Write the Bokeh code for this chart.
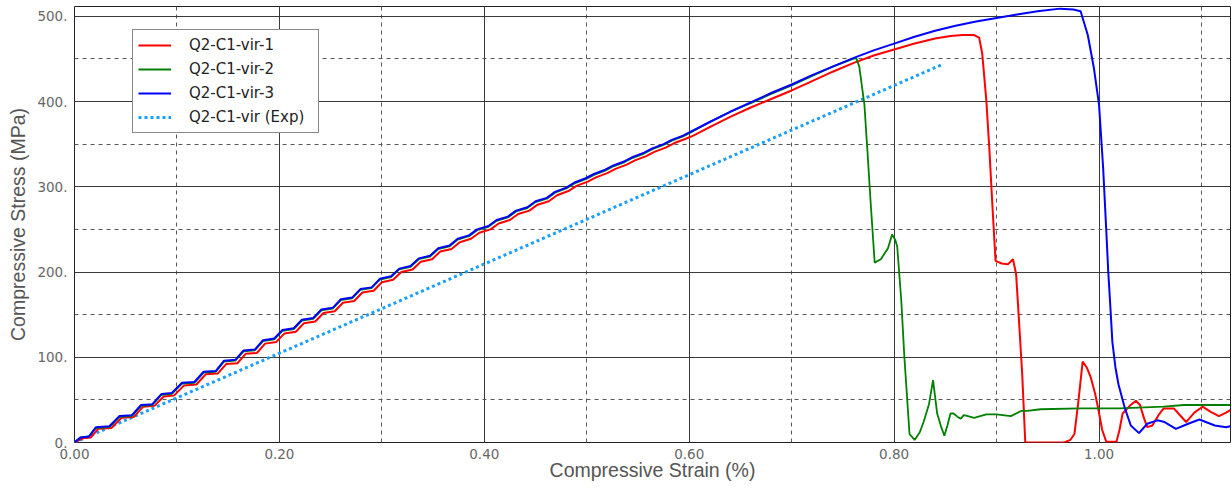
from bokeh.plotting import figure
from bokeh.models import Legend, LegendItem, FixedTicker, Range1d
from bokeh.embed import file_html
from bokeh.resources import INLINE

# ---------------- data ----------------
red_strain = [0.000, 0.008, 0.016, 0.023, 0.036, 0.046, 0.058, 0.067, 0.078, 0.087, 0.097,
              0.107, 0.119, 0.128, 0.140, 0.148, 0.159, 0.167, 0.178, 0.186, 0.197,
              0.205, 0.216, 0.224, 0.235, 0.243, 0.254, 0.262, 0.273, 0.281, 0.292,
              0.300, 0.311, 0.319, 0.330, 0.338, 0.349, 0.357, 0.368, 0.376, 0.387,
              0.395, 0.406, 0.414, 0.425, 0.433, 0.444, 0.452, 0.463, 0.471, 0.482,
              0.490, 0.501, 0.509, 0.520, 0.528, 0.539, 0.547, 0.558, 0.566, 0.577,
              0.585, 0.596, 0.604, 0.620, 0.640, 0.660, 0.680, 0.700, 0.720, 0.740,
              0.760, 0.780, 0.800, 0.820, 0.840, 0.855, 0.867, 0.878, 0.883, 0.886,
              0.890, 0.893, 0.896, 0.899, 0.905, 0.911, 0.916, 0.919, 0.921, 0.925,
              0.928, 0.966, 0.972, 0.976, 0.980, 0.984, 0.988, 0.992, 0.996, 0.999,
              1.003, 1.007, 1.017, 1.020, 1.023, 1.030, 1.036, 1.040, 1.044, 1.047,
              1.052, 1.058, 1.063, 1.073, 1.079, 1.085, 1.093, 1.101, 1.109, 1.117,
              1.124, 1.128]
red_stress = [0, 5, 6, 16, 17, 29, 30, 42, 43, 54, 55,
              67, 68, 80, 81, 92, 93, 104, 105, 116, 118,
              128, 130, 140, 142, 152, 154, 164, 166, 176, 178,
              188, 191, 200, 203, 212, 215, 224, 227, 235, 239,
              246, 250, 257, 261, 268, 272, 279, 283, 290, 295,
              301, 306, 311, 316, 321, 326, 331, 336, 341, 346,
              351, 356, 360, 370, 382, 393, 403, 413, 424, 435,
              445, 454, 461, 468, 474, 477, 478, 478, 475, 456,
              401, 343, 276, 213, 210, 209, 215, 198, 160, 80,
              0, 0, 3, 10, 50, 95, 88, 76, 58, 41,
              15, 1, 1, 15, 34, 43, 49, 44, 28, 18,
              20, 32, 40, 40, 32, 24, 35, 42, 36, 31,
              35, 38]

green_strain = [0.000, 0.006, 0.014, 0.021, 0.034, 0.044, 0.056, 0.065, 0.076, 0.085, 0.095,
                0.105, 0.117, 0.126, 0.138, 0.146, 0.157, 0.165, 0.176, 0.184, 0.195,
                0.203, 0.214, 0.222, 0.233, 0.241, 0.252, 0.260, 0.271, 0.279, 0.290,
                0.298, 0.309, 0.317, 0.328, 0.336, 0.347, 0.355, 0.366, 0.374, 0.385,
                0.393, 0.404, 0.412, 0.423, 0.431, 0.442, 0.450, 0.461, 0.469, 0.480,
                0.488, 0.499, 0.507, 0.518, 0.526, 0.537, 0.545, 0.556, 0.564, 0.575,
                0.583, 0.594, 0.602, 0.620, 0.640, 0.660, 0.680, 0.700, 0.720, 0.740,
                0.760, 0.763, 0.766, 0.771, 0.774, 0.777, 0.781, 0.787, 0.794, 0.798,
                0.801, 0.803, 0.807, 0.810, 0.815, 0.820, 0.825, 0.829, 0.834, 0.838,
                0.842, 0.846, 0.849, 0.852, 0.855, 0.858, 0.862, 0.865, 0.868, 0.872,
                0.878, 0.884, 0.890, 0.900, 0.914, 0.924, 0.930, 0.943, 0.982, 1.020,
                1.063, 1.083, 1.128]
green_stress = [0, 6, 7, 17, 18, 30, 31, 43, 44, 56, 57,
                69, 70, 82, 83, 95, 96, 107, 108, 119, 121,
                131, 133, 143, 145, 155, 157, 167, 169, 179, 181,
                191, 194, 203, 206, 215, 218, 227, 230, 238, 242,
                249, 253, 260, 264, 271, 275, 282, 286, 293, 298,
                304, 309, 314, 319, 324, 329, 334, 339, 344, 349,
                354, 359, 364, 376, 388, 398, 409, 419, 430, 441,
                450, 451, 441, 396, 341, 283, 211, 215, 228, 244,
                238, 230, 166, 100, 10, 3, 12, 25, 45, 73,
                34, 18, 8, 20, 34, 34, 30, 28, 32, 31,
                29, 31, 33, 33, 31, 37, 37, 39, 40, 40,
                42, 44, 44]

blue_strain = [0.000, 0.006, 0.014, 0.021, 0.034, 0.044, 0.056, 0.065, 0.076, 0.085, 0.095,
               0.105, 0.117, 0.126, 0.138, 0.146, 0.157, 0.165, 0.176, 0.184, 0.195,
               0.203, 0.214, 0.222, 0.233, 0.241, 0.252, 0.260, 0.271, 0.279, 0.290,
               0.298, 0.309, 0.317, 0.328, 0.336, 0.347, 0.355, 0.366, 0.374, 0.385,
               0.393, 0.404, 0.412, 0.423, 0.431, 0.442, 0.450, 0.461, 0.469, 0.480,
               0.488, 0.499, 0.507, 0.518, 0.526, 0.537, 0.545, 0.556, 0.564, 0.575,
               0.583, 0.594, 0.602, 0.620, 0.640, 0.660, 0.680, 0.700, 0.720, 0.740,
               0.760, 0.780, 0.800, 0.820, 0.840, 0.860, 0.880, 0.900, 0.920, 0.940,
               0.962, 0.975, 0.982, 0.989, 0.995, 1.000, 1.004, 1.007, 1.009, 1.011,
               1.013, 1.016, 1.019, 1.025, 1.031, 1.039, 1.047, 1.057, 1.064, 1.075,
               1.087, 1.098, 1.113, 1.124, 1.128]
blue_stress = [0, 6, 7, 18, 19, 31, 32, 44, 45, 57, 58,
               70, 71, 83, 84, 96, 97, 108, 109, 120, 122,
               132, 134, 144, 146, 156, 158, 168, 170, 180, 182,
               192, 195, 204, 207, 216, 219, 228, 231, 239, 243,
               250, 254, 261, 265, 272, 276, 283, 287, 294, 299,
               305, 310, 315, 320, 325, 330, 335, 340, 345, 350,
               355, 360, 365, 376, 388, 399, 410, 420, 431, 441,
               451, 460, 468, 476, 483, 489, 494, 498, 502, 506,
               509, 508, 506, 478, 439, 396, 322, 250, 200, 160,
               118, 88, 68, 41, 20, 11, 22, 26, 24, 16,
               22, 27, 20, 18, 19]

exp_strain = [0.0, 0.848]
exp_stress = [0.0, 444.0]

series_names = ["Q2-C1-vir-1", "Q2-C1-vir-2", "Q2-C1-vir-3", "Q2-C1-vir (Exp)"]

x_ticks = [0.0, 0.2, 0.4, 0.6, 0.8, 1.0]
x_tick_labels = ["0.00", "0.20", "0.40", "0.60", "0.80", "1.00"]
x_minor = [0.1, 0.3, 0.5, 0.7, 0.9, 1.1]
y_ticks = [0, 100, 200, 300, 400, 500]
y_tick_labels = ["0.", "100.", "200.", "300.", "400.", "500."]
y_minor = [50, 150, 250, 350, 450]

# ---------------- figure ----------------
p = figure(width=1232, height=488, output_backend="svg", toolbar_location=None,
           x_range=Range1d(0, 1.1283), y_range=Range1d(0, 511.5),
           min_border_left=74, min_border_right=2, min_border_top=6, min_border_bottom=46)
p.background_fill_color = "white"
p.border_fill_color = "white"
p.outline_line_color = "#222222"
p.outline_line_width = 1

p.xaxis.ticker = FixedTicker(ticks=x_ticks, minor_ticks=x_minor)
p.yaxis.ticker = FixedTicker(ticks=y_ticks, minor_ticks=y_minor)
p.xaxis.major_label_overrides = dict(zip(x_ticks, x_tick_labels))
p.yaxis.major_label_overrides = dict(zip(y_ticks, y_tick_labels))

for ax in (p.xaxis, p.yaxis):
    ax.axis_line_color = None
    ax.major_tick_line_color = None
    ax.minor_tick_line_color = None
    ax.major_label_text_font = "DejaVu Sans"
    ax.major_label_text_font_size = "13.5px"
    ax.major_label_text_color = "#666666"
    ax.axis_label_text_font = "Liberation Sans"
    ax.axis_label_text_font_size = "19.5px"
    ax.axis_label_text_font_style = "normal"
    ax.axis_label_text_color = "#555555"

p.xaxis.axis_label = "Compressive Strain (%)"
p.yaxis.axis_label = "Compressive Stress (MPa)"
p.xaxis.major_label_standoff = 0
p.xaxis.axis_label_standoff = -3
p.yaxis.major_label_standoff = 1
p.yaxis.axis_label_standoff = 5

for g in (p.xgrid, p.ygrid):
    g.grid_line_color = "#3a3a3a"
    g.grid_line_width = 1
    g.minor_grid_line_color = "#5a5a5a"
    g.minor_grid_line_dash = "4 4"
    g.minor_grid_line_width = 1

r_exp = p.line(exp_strain, exp_stress, line_color="#1a9fff", line_width=3, line_dash="3 3")
r_red = p.line(red_strain, red_stress, line_color="#ff0000", line_width=2)
r_green = p.line(green_strain, green_stress, line_color="#008000", line_width=1.8)
r_blue = p.line(blue_strain, blue_stress, line_color="#0000ff", line_width=2)

legend = Legend(items=[
    LegendItem(label=series_names[0], renderers=[r_red]),
    LegendItem(label=series_names[1], renderers=[r_green]),
    LegendItem(label=series_names[2], renderers=[r_blue]),
    LegendItem(label=series_names[3], renderers=[r_exp]),
])
legend.location = (58, 309)
legend.border_line_color = "#111111"
legend.border_line_width = 1
legend.background_fill_color = "white"
legend.background_fill_alpha = 1
legend.label_text_font = "DejaVu Sans"
legend.label_text_font_size = "15px"
legend.label_text_color = "#222222"
legend.padding = 5
legend.spacing = 4
legend.margin = 0
legend.glyph_width = 33
legend.glyph_height = 20
legend.label_height = 20
legend.label_width = 124
legend.label_standoff = 18
p.add_layout(legend)

open("out.html", "w").write(file_html(p, INLINE))
